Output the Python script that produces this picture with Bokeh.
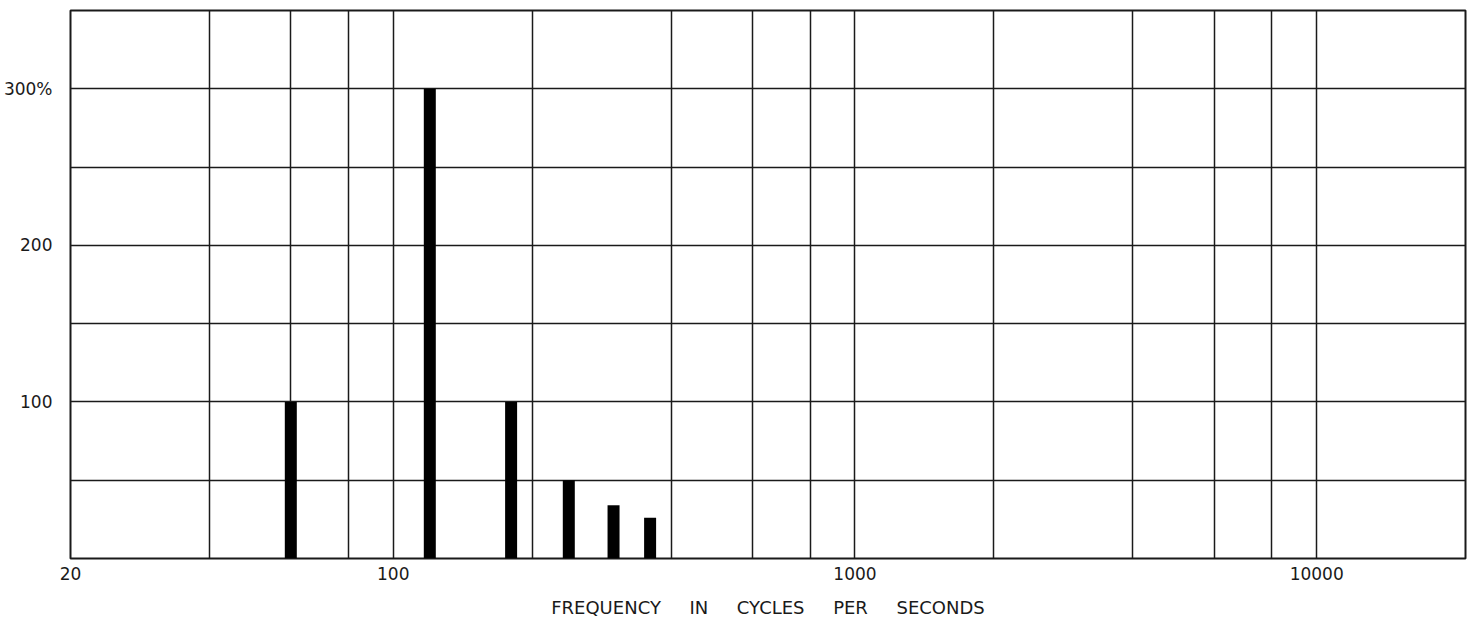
from bokeh.plotting import figure
from bokeh.models import FixedTicker, ColumnDataSource, Range1d
from bokeh.embed import file_html
from bokeh.resources import INLINE

# Data
freqs = [60, 120, 180, 240, 300, 360]
amplitudes = [100, 300, 100, 50, 34, 26]

x_ticks = [20, 100, 1000, 10000]
x_tick_labels = ["20", "100", "1000", "10000"]
x_grid = [40, 60, 80, 100, 200, 400, 600, 800, 1000, 2000, 4000, 6000, 8000, 10000]
y_ticks = [100, 200, 300]
y_tick_labels = ["100", "200", "300%"]
y_grid = [50, 100, 150, 200, 250, 300]

FONT = "DejaVu Sans"
INK = "#1a1a1a"
SP = "\u00a0" * 5
x_title = SP.join(["FREQUENCY", "IN", "CYCLES", "PER", "SECONDS"])

p = figure(width=1476, height=622, x_axis_type="log",
           x_range=Range1d(20, 21000), y_range=Range1d(0, 350),
           output_backend="svg", toolbar_location=None,
           min_border_left=70, min_border_right=11, min_border_top=10, min_border_bottom=64)

src = ColumnDataSource(dict(f=freqs, a=amplitudes, z=[0] * len(freqs)))
p.segment(x0="f", y0="z", x1="f", y1="a", line_width=12, line_cap="butt",
          line_color="black", source=src)

p.outline_line_color = INK
p.outline_line_width = 2
p.outline_line_alpha = 1

p.xgrid.ticker = FixedTicker(ticks=x_grid)
p.ygrid.ticker = FixedTicker(ticks=y_grid)
for g in (p.xgrid, p.ygrid):
    g.grid_line_color = INK
    g.grid_line_width = 1.5
    g.grid_line_alpha = 1

xa = p.xaxis[0]
xa.ticker = FixedTicker(ticks=x_ticks)
xa.major_label_overrides = {t: l for t, l in zip(x_ticks, x_tick_labels)}
xa.axis_label = x_title
xa.axis_label_text_font = FONT
xa.axis_label_text_font_style = "normal"
xa.axis_label_text_font_size = "18px"
xa.axis_label_text_color = INK
xa.axis_label_standoff = 14
xa.major_label_standoff = 2

ya = p.yaxis[0]
ya.ticker = FixedTicker(ticks=y_ticks)
ya.major_label_overrides = {t: l for t, l in zip(y_ticks, y_tick_labels)}
ya.major_label_standoff = 12

for ax in (xa, ya):
    ax.axis_line_color = None
    ax.major_tick_line_color = None
    ax.minor_tick_line_color = None
    ax.major_label_text_font = FONT
    ax.major_label_text_font_size = "17px"
    ax.major_label_text_color = INK

p.background_fill_color = "white"
p.border_fill_color = "white"

open("out.html", "w").write(file_html(p, INLINE))
